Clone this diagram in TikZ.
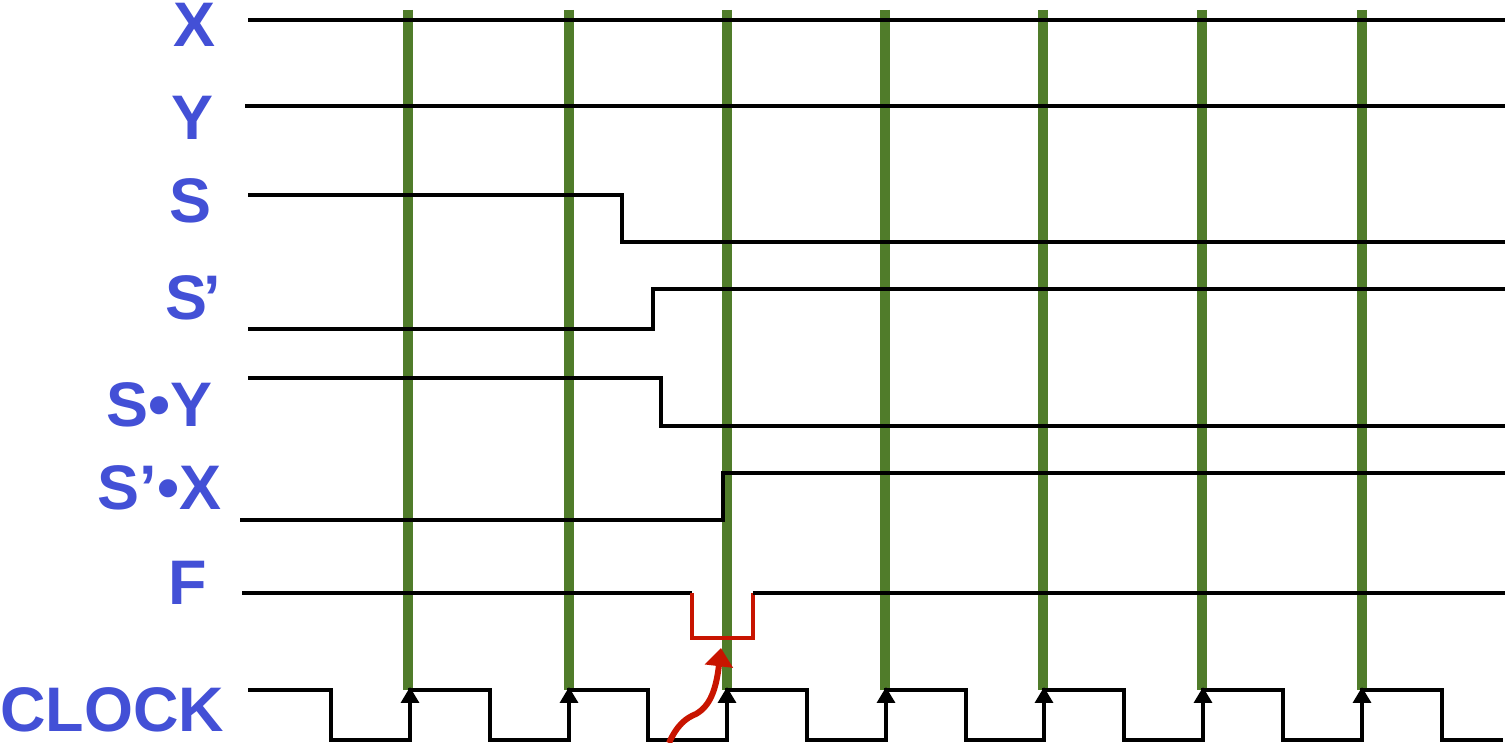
\documentclass[tikz,border=0pt]{standalone}
\usepackage{fontspec}
\setmainfont{Liberation Sans}
\usetikzlibrary{arrows.meta}
\definecolor{sigblue}{HTML}{4350D6}
\definecolor{clkgreen}{HTML}{507C2A}
\definecolor{glitchred}{HTML}{C81400}

\begin{document}
\begin{tikzpicture}[
  x=0.01cm, y=-0.01cm,
  sigtag/.style={
    font=\fontsize{17.9pt}{20pt}\selectfont\bfseries,
    text=sigblue, anchor=base east, inner sep=0pt
  },
  wave/.style={line width=1.2pt, black},
  clkline/.style={line width=2.85pt, clkgreen},
  rise/.style={wave, -{Triangle[length=4.5pt, width=5pt]}},
  glitch/.style={line width=1.3pt, glitchred},
  cause/.style={line width=1.7pt, glitchred, -{Triangle[length=5.2pt, width=7.8pt]}},
]

% Page frame
\useasboundingbox (0,0) rectangle (1505,743);

% =============================================
% Signal names
% =============================================
\node[sigtag] (lx)   at (216,47)  {X};
\node[sigtag] (ly)   at (214,140) {Y};
\node[sigtag] (ls)   at (212,223) {S};
\node[sigtag] (lsn)  at (222,320) {S\kern-1pt’};
\node[sigtag] (lsy)  at (213,427) {S•Y};
\node[sigtag] (lsnx) at (222,510) {S’•X};
\node[sigtag] (lf)   at (208,605) {F};
\node[sigtag] (lclk) at (225,732) {CLOCK};

% =============================================
% Clock edges (green markers)
% =============================================
\draw[clkline] (408,10) -- (408,690);
\draw[clkline] (569,10) -- (569,690);
\draw[clkline] (727,10) -- (727,690);
\draw[clkline] (885,10) -- (885,690);
\draw[clkline] (1043,10) -- (1043,690);
\draw[clkline] (1202,10) -- (1202,690);
\draw[clkline] (1362,10) -- (1362,690);

% =============================================
% Waveforms
% =============================================
% X and Y stay high
\draw[wave] (248,20) -- (1505,20);
\draw[wave] (245,106) -- (1505,106);

% S falls
\draw[wave] (248,195) -- (622,195) -- (622,242) -- (1505,242);

% S' rises a little later
\draw[wave] (248,329) -- (653,329) -- (653,289) -- (1505,289);

% S.Y falls
\draw[wave] (248,378) -- (661,378) -- (661,426) -- (1505,426);

% S'.X rises late
\draw[wave] (240,520) -- (723,520) -- (723,473) -- (1505,473);

% F with its glitch
\draw[wave] (242,593) -- (692,593);
\draw[glitch] (692,593) -- (692,638) -- (753,638) -- (753,593);
\draw[wave] (753,593) -- (1505,593);

% Clock
\draw[wave] (248,690) -- (331,690) -- (331,740) -- (410,740) -- (410,690)
  -- (490,690) -- (490,740) -- (569,740) -- (569,690)
  -- (648,690) -- (648,740) -- (727,740) -- (727,690)
  -- (807,690) -- (807,740) -- (886,740) -- (886,690)
  -- (966,690) -- (966,740) -- (1044,740) -- (1044,690)
  -- (1124,690) -- (1124,740) -- (1203,740) -- (1203,690)
  -- (1283,690) -- (1283,740) -- (1362,740) -- (1362,690)
  -- (1442,690) -- (1442,740) -- (1503,740);

% Rising edge arrows
\draw[rise] (410,740) -- (410,687);
\draw[rise] (569,740) -- (569,687);
\draw[rise] (727,740) -- (727,687);
\draw[rise] (886,740) -- (886,687);
\draw[rise] (1044,740) -- (1044,687);
\draw[rise] (1203,740) -- (1203,687);
\draw[rise] (1362,740) -- (1362,687);

% =============================================
% Glitch cause
% =============================================
\coordinate (kick) at (669,743);
\coordinate (dip) at (721,648);
\draw[cause] (kick) .. controls (677,725) and (686,718) .. (696,714)
  .. controls (710,706) and (716,690) .. (dip);

\end{tikzpicture}
\end{document}
